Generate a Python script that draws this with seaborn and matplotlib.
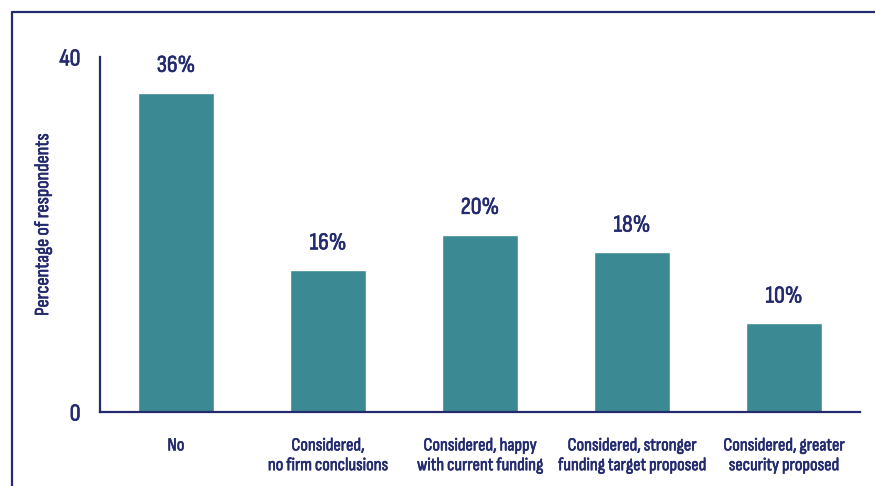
import matplotlib
matplotlib.use("Agg")
import matplotlib.pyplot as plt
import matplotlib.patheffects as pe
import seaborn as sns
import pandas as pd

categories = [
    "No",
    "Considered,\nno firm conclusions",
    "Considered, happy\nwith current funding",
    "Considered, stronger\nfunding target proposed",
    "Considered, greater\nsecurity proposed",
]
values = [36, 16, 20, 18, 10]
value_labels = ["36%", "16%", "20%", "18%", "10%"]
y_ticks = [0, 40]

NAVY = "#232a6e"
TEAL = "#3b8a93"

sns.set_theme(style="white")
plt.rcParams["font.family"] = ["Sofia Sans Condensed", "DejaVu Sans"]

# slightly heavier strokes for all text
bold = [pe.withStroke(linewidth=0.45, foreground=NAVY)]

df = pd.DataFrame({"category": categories, "value": values})

fig = plt.figure(figsize=(8.75, 4.86), dpi=100)
ax = fig.add_axes([100 / 875, 1 - 412 / 486, 760 / 875, 355 / 486])

sns.barplot(data=df, x="category", y="value", color=TEAL, width=0.5,
            saturation=1, ax=ax)

ax.set_xlim(-0.5, 4.5)
ax.set_ylim(0, 40)
ax.set_yticks(y_ticks)
ax.set_yticklabels([str(t) for t in y_ticks], fontsize=17.5, color=NAVY)
ax.tick_params(axis="y", length=0, pad=14)
ax.tick_params(axis="x", length=0, pad=19)
for lab in ax.get_yticklabels():
    lab.set_path_effects(bold)
for lab in ax.get_xticklabels():
    lab.set_fontsize(13.2)
    lab.set_color(NAVY)
    lab.set_linespacing(1.4)
    lab.set_path_effects(bold)
ax.set_xlabel("")
ax.set_ylabel("Percentage of respondents", fontsize=14.5, color=NAVY,
              path_effects=bold)
ax.yaxis.set_label_coords(-0.063, 0.528)

for s in ["top", "right"]:
    ax.spines[s].set_visible(False)
for s in ["left", "bottom"]:
    ax.spines[s].set_color(NAVY)
    ax.spines[s].set_linewidth(1.6)

for i, (v, lab) in enumerate(zip(values, value_labels)):
    ax.annotate(lab, (i, v), xytext=(0, 12), textcoords="offset points",
                ha="center", va="bottom", fontsize=17.5, color=NAVY,
                path_effects=bold)

# outer frame line (top and left edges)
fig.add_artist(plt.Line2D([11.5 / 875, 11.5 / 875, 1.0],
                          [0.0, 1 - 12.5 / 486, 1 - 12.5 / 486],
                          transform=fig.transFigure, color=NAVY, linewidth=1.6))

fig.savefig("out.png", dpi=100)
